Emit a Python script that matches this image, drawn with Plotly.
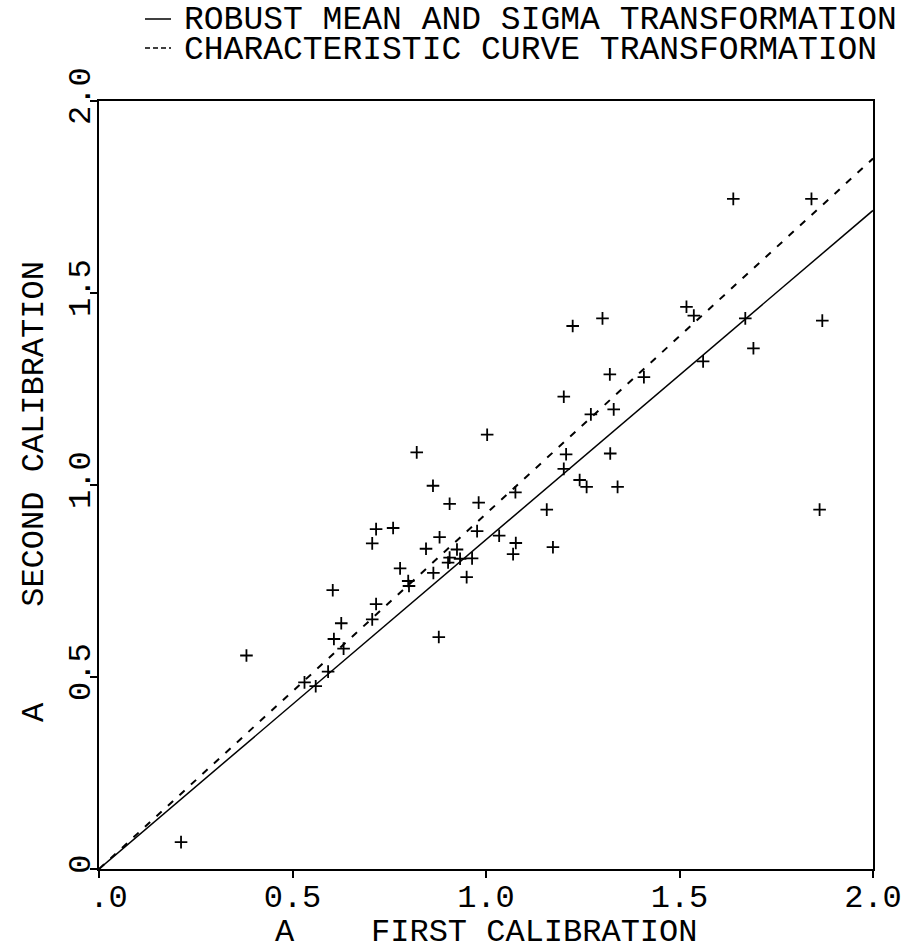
import plotly.graph_objects as go

# ---- data ----
first_cal = [0.212, 0.381, 0.531, 0.560, 0.592, 0.604, 0.607, 0.626, 0.632, 0.706,
             0.706, 0.716, 0.716, 0.760, 0.778, 0.799, 0.801, 0.821, 0.845, 0.863,
             0.864, 0.878, 0.880, 0.906, 0.902, 0.906, 0.925, 0.933, 0.950, 0.964,
             0.977, 0.981, 1.003, 1.034, 1.076, 1.077, 1.070, 1.157, 1.173, 1.201,
             1.207, 1.224, 1.242, 1.260, 1.271, 1.201, 1.301, 1.321, 1.320, 1.330,
             1.340, 1.408, 1.518, 1.537, 1.561, 1.639, 1.670, 1.691, 1.841, 1.869,
             1.862]
second_cal = [0.070, 0.556, 0.486, 0.476, 0.514, 0.726, 0.599, 0.640, 0.574, 0.848,
              0.650, 0.885, 0.690, 0.888, 0.783, 0.750, 0.737, 1.085, 0.834, 0.998,
              0.771, 0.604, 0.864, 0.811, 0.798, 0.951, 0.832, 0.808, 0.760, 0.809,
              0.880, 0.954, 1.131, 0.868, 0.981, 0.849, 0.820, 0.936, 0.838, 1.042,
              1.080, 1.414, 1.013, 0.995, 1.184, 1.230, 1.434, 1.082, 1.288, 1.197,
              0.995, 1.281, 1.464, 1.441, 1.322, 1.745, 1.434, 1.356, 1.745, 1.428,
              0.936]

line_x = [0.0, 2.0]
robust_y = [0.0, 1.715]
charcurve_y = [0.0, 1.850]

tick_vals = [0.0, 0.5, 1.0, 1.5, 2.0]
x_tick_text = ['<span style="color:rgba(0,0,0,0)">0</span>.0', "0.5", "1.0", "1.5", "2.0"]
y_tick_text = ["0", "0.5", "1.0", "1.5", "2.0"]

legend_labels = ["ROBUST MEAN AND SIGMA TRANSFORMATION",
                 "CHARACTERISTIC CURVE TRANSFORMATION"]
x_title = "A    FIRST CALIBRATION"
y_title = "A     SECOND CALIBRATION"

FONT = "Liberation Mono"
FS = 32
FS_LEG = 33

W, H = 905, 951
# plot area in page pixels
PL, PR, PT, PB = 99, 873, 101, 869
ml, mr, mt, mb = PL, W - PR, PT, H - PB


def px_x(p):
    return (p - PL) / (PR - PL)


def px_y(p):
    return (PB - p) / (PB - PT)


fig = go.Figure()
fig.add_trace(go.Scatter(x=line_x, y=robust_y, mode="lines",
                         line=dict(color="black", width=1.5),
                         name=legend_labels[0], showlegend=False, hoverinfo="skip"))
fig.add_trace(go.Scatter(x=line_x, y=charcurve_y, mode="lines",
                         line=dict(color="black", width=2, dash="7px,8.6px"),
                         name=legend_labels[1], showlegend=False, hoverinfo="skip"))
fig.add_trace(go.Scatter(x=first_cal, y=second_cal, mode="markers",
                         marker=dict(symbol="cross-thin", size=9,
                                     line=dict(color="black", width=1.8)),
                         showlegend=False))

axis_common = dict(range=[0, 2], tickvals=tick_vals, showgrid=False, zeroline=False,
                   showline=True, linecolor="black", linewidth=1.5, mirror=True,
                   ticks="outside", ticklen=7, tickwidth=1.5, tickcolor="black",
                   automargin=False,
                   tickfont=dict(family=FONT, size=FS, color="black"))

fig.update_xaxes(**axis_common, ticktext=x_tick_text, ticklabelstandoff=-9)
fig.update_yaxes(**axis_common, ticktext=y_tick_text, tickangle=-90,
                 ticklabelstandoff=-13)

annotations = [
    dict(text=legend_labels[0], x=px_x(182), y=px_y(21), xref="paper", yref="paper",
         xanchor="left", yanchor="middle", showarrow=False,
         font=dict(family=FONT, size=FS_LEG, color="black")),
    dict(text=legend_labels[1], x=px_x(182), y=px_y(50.5), xref="paper", yref="paper",
         xanchor="left", yanchor="middle", showarrow=False,
         font=dict(family=FONT, size=FS_LEG, color="black")),
    dict(text=x_title, x=0.5, y=px_y(932), xref="paper", yref="paper",
         xanchor="center", yanchor="middle", showarrow=False),
    dict(text=y_title, x=px_x(35), y=px_y(492), xref="paper", yref="paper",
         xanchor="center", yanchor="middle", textangle=-90, showarrow=False),
]

shapes = [
    dict(type="line", xref="paper", yref="paper", x0=px_x(145), x1=px_x(171),
         y0=px_y(19), y1=px_y(19), line=dict(color="black", width=1.5)),
    dict(type="line", xref="paper", yref="paper", x0=px_x(145), x1=px_x(171),
         y0=px_y(48), y1=px_y(48), line=dict(color="black", width=1.5, dash="5px,3px")),
]

fig.update_layout(
    template="none",
    width=W, height=H,
    margin=dict(l=ml, r=mr, t=mt, b=mb, pad=0),
    paper_bgcolor="white", plot_bgcolor="white",
    font=dict(family=FONT, size=FS, color="black"),
    annotations=annotations, shapes=shapes,
    showlegend=False,
)

fig.write_html(
    "out.html",
    config={"displayModeBar": False},
    post_script="document.body.style.margin='0px';document.body.style.overflow='hidden';",
)
